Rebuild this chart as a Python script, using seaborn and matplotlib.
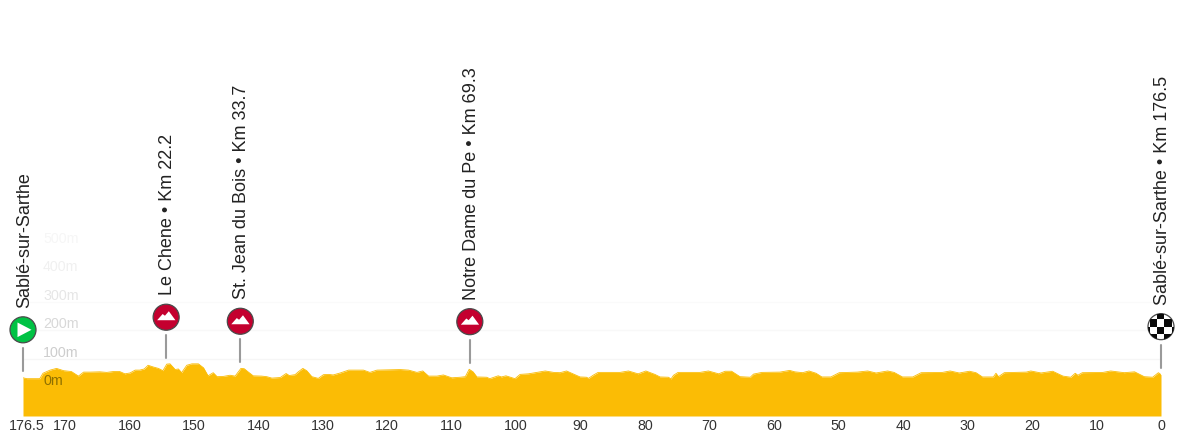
import numpy as np
import pandas as pd
import matplotlib
matplotlib.use("Agg")
import matplotlib.pyplot as plt
from matplotlib.patches import Circle, Polygon, Rectangle
from matplotlib.transforms import IdentityTransform, ScaledTranslation
import seaborn as sns

# profile: km to go / altitude in m
km_to_go = [176.5, 175.9, 173.9, 173.4, 172.3, 171.3, 170.2, 169.0, 167.9, 167.1, 166.1, 164.6, 163.5, 162.5,
            161.5, 160.7, 159.9, 159.1, 158.4, 157.7, 157.1, 156.3, 155.5, 154.8, 154.2, 153.7, 152.9, 152.4,
            151.9, 151.1, 150.3, 149.3, 148.5, 147.8, 147.0, 146.4, 145.4, 144.4, 143.6, 142.7, 142.2, 141.6,
            140.8, 139.5, 138.7, 137.9, 136.6, 135.7, 135.2, 134.3, 133.8, 133.1, 132.5, 131.7, 130.7, 129.9,
            129.1, 128.4, 127.3, 126.0, 123.7, 122.7, 121.6, 118.0, 116.7, 115.4, 114.5, 113.6, 112.3, 111.3,
            110.0, 108.7, 107.9, 107.3, 106.7, 106.1, 104.6, 104.1, 102.8, 102.3, 101.6, 100.2, 99.4, 98.1,
            96.8, 95.5, 94.2, 93.2, 92.2, 91.1, 90.1, 89.1, 88.8, 88.0, 87.3, 83.9, 82.6, 81.1, 79.9, 78.5,
            77.7, 76.4, 76.0, 75.6, 74.9, 71.5, 70.2, 68.6, 67.6, 66.6, 65.3, 63.7, 63.2, 61.9, 59.1, 57.6,
            56.8, 55.6, 54.6, 53.5, 52.6, 51.2, 49.9, 47.1, 45.5, 44.2, 42.4, 41.4, 40.1, 38.5, 37.2, 33.9,
            32.7, 31.3, 29.7, 28.7, 27.7, 26.0, 25.6, 25.2, 24.3, 20.9, 20.2, 18.6, 16.8, 15.2, 14.0, 13.3,
            12.9, 12.2, 9.0, 7.8, 5.7, 4.1, 2.6, 1.3, 0.4, 0.0]
altitude = [34, 31, 31, 50, 61, 67, 59, 56, 40, 54, 54, 55, 53, 56,
            56, 48, 51, 61, 61, 65, 78, 72, 67, 59, 82, 83, 63, 65,
            52, 78, 83, 83, 69, 41, 52, 38, 39, 43, 40, 67, 66, 55,
            41, 40, 38, 33, 35, 49, 42, 45, 55, 67, 59, 38, 32, 45,
            46, 44, 51, 61, 61, 53, 61, 63, 61, 53, 58, 40, 40, 44,
            34, 36, 38, 64, 55, 37, 36, 31, 41, 37, 41, 31, 46, 48,
            53, 58, 53, 52, 58, 47, 37, 36, 32, 44, 53, 53, 58, 48, 58, 46,
            37, 36, 30, 43, 53, 53, 58, 48, 57, 57, 38, 36, 47, 53, 54, 60,
            55, 52, 58, 50, 37, 37, 52, 54, 58, 51, 58, 53, 37, 37, 52, 53,
            58, 51, 57, 52, 37, 37, 50, 38, 52, 54, 58, 51, 57, 40, 36, 50,
            43, 52, 53, 58, 52, 55, 38, 36, 52, 45]

race_km = 176.5
climb_names = ["Le Chene", "St. Jean du Bois", "Notre Dame du Pe"]
climb_km = [22.2, 33.7, 69.3]
start_name = "Sablé-sur-Sarthe"
finish_name = "Sablé-sur-Sarthe"
elev_ticks = [0, 100, 200, 300, 400, 500]
elev_colors = ["#8f7000", "#cdcdcd", "#d8d8d8", "#e6e6e6", "#f0f0f0", "#f6f6f6"]
grid_ticks = [100, 200, 300]
grid_colors = ["#f6f6f6", "#f8f8f8", "#fafafa"]
km_ticks = [176.5, 170, 160, 150, 140, 130, 120, 110, 100, 90, 80, 70, 60, 50, 40, 30, 20, 10, 0]

AREA = "#fbbc05"
RED = "#c4002f"
GREEN = "#00c244"
EDGE = "#4a4a4a"

sns.set_theme(style="white")
plt.rcParams["font.family"] = ["Liberation Sans", "DejaVu Sans"]

W, H = 1196, 436
fig = plt.figure(figsize=(W / 100, H / 100), dpi=100)
ax = fig.add_axes([23 / W, 20 / H, 1138 / W, 416 / H])

df = pd.DataFrame({"km": km_to_go, "alt": altitude})
ax.fill_between(df["km"], -100, df["alt"], color=AREA, lw=0, zorder=2)
sns.lineplot(data=df, x="km", y="alt", ax=ax, color=AREA, lw=0.6, zorder=2, sort=False, estimator=None)

ax.set_xlim(race_km, 0)
ax.set_ylim(-100, 1359.6)
ax.set_xlabel("")
ax.set_ylabel("")
sns.despine(ax=ax, left=True, bottom=True)

ax.set_yticks([])
for e, c in zip(grid_ticks, grid_colors):
    ax.axhline(e, color=c, lw=1, zorder=1)

ax.set_xticks(km_ticks)
ax.set_xticklabels([str(k) for k in km_ticks], fontsize=10.3, color="#333333")
ax.tick_params(axis="x", length=0, pad=2.5)
first = ax.get_xticklabels()[0]
first.set_transform(first.get_transform() + ScaledTranslation(4 / 100, 0, fig.dpi_scale_trans))

for e, c in zip(elev_ticks, elev_colors):
    ax.annotate(f"{e}m", xy=(race_km, e), xytext=(20, -1), textcoords="offset pixels",
                fontsize=10.3, color=c, ha="left", va="bottom", zorder=3)


def stage_marker(km_left, label, kind):
    # marker stands on the profile, everything below is in pixels from that point
    alt = np.interp(km_left, km_to_go[::-1], altitude[::-1])
    x0, y0 = ax.transData.transform((km_left, alt))
    tr = IdentityTransform()
    ax.plot([x0, x0], [y0 + 7, y0 + 30], transform=tr, color="#9a9a9a", lw=1.5, clip_on=False, zorder=4)
    cy = y0 + 48
    face = {"climb": RED, "start": GREEN, "finish": "white"}[kind]
    circ = Circle((x0, cy), 13, transform=tr, fc=face, ec=EDGE, lw=0.9, clip_on=False, zorder=5)
    ax.add_patch(circ)
    if kind == "climb":
        pts = [(-9, -3), (-3.5, 3.2), (-1.2, 1.5), (2.7, 6), (9.3, -3)]
        ax.add_patch(Polygon([(x0 + a, cy + b) for a, b in pts], transform=tr, fc="white", ec="none",
                             clip_on=False, zorder=6))
    elif kind == "start":
        pts = [(-5.5, -7.3), (-5.5, 7.3), (8.5, 0)]
        ax.add_patch(Polygon([(x0 + a, cy + b) for a, b in pts], transform=tr, fc="white", ec="none",
                             clip_on=False, zorder=6))
    else:
        cell = 7.3
        for i in range(-2, 3):
            for j in range(-2, 2):
                if (i + j) % 2 == 1:
                    sq = Rectangle((x0 - 4 + i * cell, cy + j * cell), cell, cell, transform=tr,
                                   fc="#0a0a0a", ec="none", zorder=6)
                    ax.add_patch(sq)
                    sq.set_clip_box(None)
                    sq.set_clip_path(circ)
    ax.annotate(label, xy=(km_left, alt), xytext=(1.5, 70), textcoords="offset pixels", rotation=90,
                ha="center", va="bottom", fontsize=13, color="#222222", annotation_clip=False, zorder=6)


stage_marker(race_km, start_name, "start")
for name, km in zip(climb_names, climb_km):
    stage_marker(race_km - km, f"{name} • Km {km}", "climb")
stage_marker(0.0, f"{finish_name} • Km {race_km}", "finish")

fig.savefig("out.png", dpi=100, facecolor="white")
